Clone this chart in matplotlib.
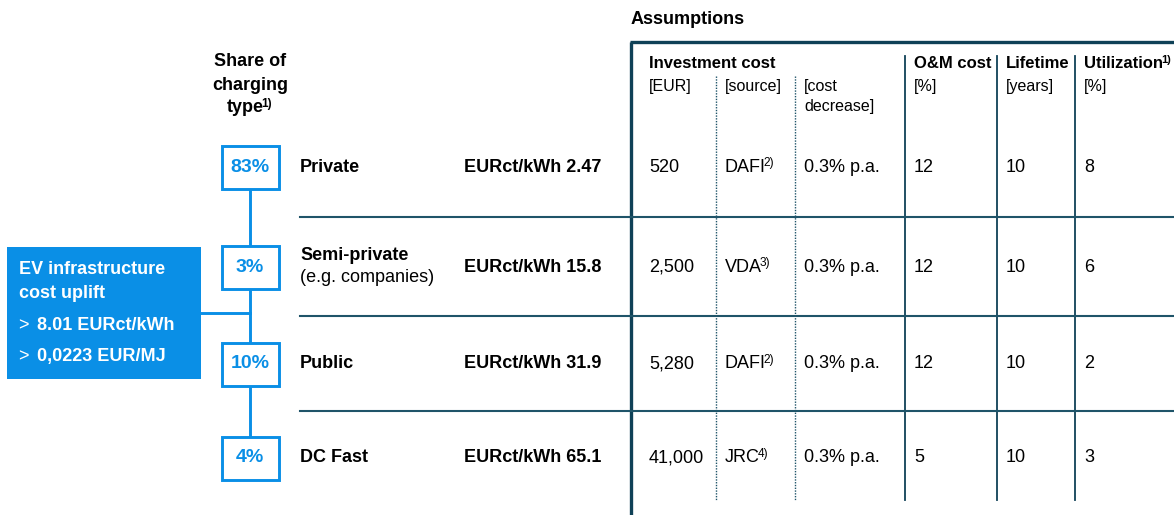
import matplotlib
matplotlib.use("Agg")
from matplotlib import pyplot as plt
from matplotlib.patches import Rectangle

# chart data
shares = [83, 3, 10, 4]
charging_types = ["Private", "Semi-private", "Public", "DC Fast"]
type_notes = ["", "(e.g. companies)", "", ""]
cost_per_kwh = ["2.47", "15.8", "31.9", "65.1"]
invest_eur = ["520", "2,500", "5,280", "41,000"]
invest_source = ["DAFI", "VDA", "DAFI", "JRC"]
source_notes = ["2)", "3)", "2)", "4)"]
cost_decrease = ["0.3% p.a.", "0.3% p.a.", "0.3% p.a.", "0.3% p.a."]
om_cost = [12, 12, 12, 5]
lifetime = [10, 10, 10, 10]
utilization = [8, 6, 2, 3]
uplift_ct = "8.01 EURct/kWh"
uplift_mj = "0,0223 EUR/MJ"

# layout (pixels)
W, H = 1174, 515
row_y = [167, 267, 364, 458]
BLUE = "#0a8fe6"
DARK = "#0f4157"
LINE = "#1f5469"
FONT = ["Liberation Sans Narrow", "Liberation Sans", "DejaVu Sans"]

plt.rcParams["font.family"] = FONT

fig = plt.figure(figsize=(W / 100, H / 100), dpi=100)
ax = fig.add_axes([0, 0, 1, 1])
ax.set_xlim(0, W)
ax.set_ylim(H, 0)
ax.axis("off")


def sup_text(x, y, main, sup, size, weight="normal", color="black", ha="left", va="center"):
    t = ax.text(x, y, main, fontsize=size, fontweight=weight, color=color, ha=ha, va=va)
    ax.annotate(sup, xy=(1, 1), xycoords=t, xytext=(-1.6, 1.2), textcoords="offset points",
                fontsize=size * 0.66, fontweight=weight, color=color, ha="left", va="top")
    return t


# title of the table
ax.text(631, 20, "Assumptions", fontsize=13, fontweight="bold", va="center")

# thick frame
ax.plot([631, 631], [42, H], color=DARK, lw=2.4, solid_capstyle="butt")
ax.plot([630, W], [42, 42], color=DARK, lw=2.4, solid_capstyle="butt")

# column headers
hy1, hy2 = 64, 86
ax.text(649, hy1, "Investment cost", fontsize=12, fontweight="bold", va="center")
ax.text(649, hy2, "[EUR]", fontsize=11.5, va="center")
ax.text(725, hy2, "[source]", fontsize=11.5, va="center")
ax.text(804, hy2, "[cost", fontsize=11.5, va="center")
ax.text(804, hy2 + 21, "decrease]", fontsize=11.5, va="center")
ax.text(914, hy1, "O&M cost", fontsize=12, fontweight="bold", va="center")
ax.text(914, hy2, "[%]", fontsize=11.5, va="center")
ax.text(1006, hy1, "Lifetime", fontsize=12, fontweight="bold", va="center")
ax.text(1006, hy2, "[years]", fontsize=11.5, va="center")
sup_text(1084, hy1, "Utilization", "1)", 12, weight="bold")
ax.text(1084, hy2, "[%]", fontsize=11.5, va="center")

# column dividers
for x in [716, 795]:
    ax.plot([x, x], [76, 500], color=LINE, lw=1, ls=(0, (1, 1)))
for x in [905, 997, 1075]:
    ax.plot([x, x], [56, 500], color=DARK, lw=1.3)

# row separators
for i in range(len(row_y) - 1):
    y = (row_y[i] + row_y[i + 1]) / 2
    ax.plot([300, W], [y, y], color=LINE, lw=1.5)

# share header
ax.text(250, 62, "Share of", fontsize=13, fontweight="bold", ha="center", va="center")
ax.text(250, 85, "charging", fontsize=13, fontweight="bold", ha="center", va="center")
sup_text(245, 108, "type", "1)", 13, weight="bold", ha="center")

# blue connector
ax.plot([250, 250], [row_y[0], row_y[-1]], color=BLUE, lw=2.1, zorder=1)
ax.plot([200, 250], [313, 313], color=BLUE, lw=2.1, zorder=1)

# uplift box
ax.add_patch(Rectangle((7, 247), 194, 132, facecolor=BLUE, edgecolor="none", zorder=2))
ax.text(19, 270, "EV infrastructure", fontsize=13, fontweight="bold", color="white", va="center")
ax.text(19, 294, "cost uplift", fontsize=13, fontweight="bold", color="white", va="center")
ax.text(18, 326, ">", fontsize=13, color="white", va="center")
ax.text(37, 326, uplift_ct, fontsize=13, fontweight="bold", color="white", va="center")
ax.text(18, 357, ">", fontsize=13, color="white", va="center")
ax.text(37, 357, uplift_mj, fontsize=13, fontweight="bold", color="white", va="center")

for i, y in enumerate(row_y):
    # share box
    ax.add_patch(Rectangle((221.5, y - 21.5), 57, 43, facecolor="white", edgecolor=BLUE,
                           lw=2.1, zorder=3))
    ax.text(250, y, f"{shares[i]}%", fontsize=14, fontweight="bold", color=BLUE,
            ha="center", va="center", zorder=4)

    # type label
    if type_notes[i]:
        ax.text(300, y - 12, charging_types[i], fontsize=13, fontweight="bold", va="center")
        ax.text(300, y + 11, type_notes[i], fontsize=13, va="center")
    else:
        ax.text(300, y, charging_types[i], fontsize=13, fontweight="bold", va="center")

    ax.text(464, y, f"EURct/kWh {cost_per_kwh[i]}", fontsize=13, fontweight="bold", va="center")

    # assumptions
    ax.text(649, y, invest_eur[i], fontsize=13, va="center")
    sup_text(725, y, invest_source[i], source_notes[i], 13)
    ax.text(804, y, cost_decrease[i], fontsize=13, va="center")
    ax.text(914, y, str(om_cost[i]), fontsize=13, va="center")
    ax.text(1006, y, str(lifetime[i]), fontsize=13, va="center")
    ax.text(1084, y, str(utilization[i]), fontsize=13, va="center")

fig.savefig("out.png", dpi=100)
